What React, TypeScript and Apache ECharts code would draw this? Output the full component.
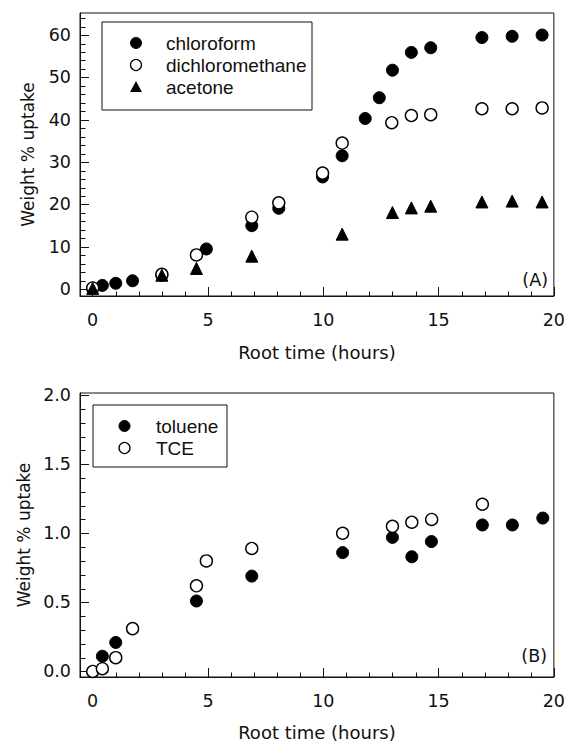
import React, { useEffect, useRef } from "react";
import * as echarts from "echarts";

// Panel A
const chloroX = [0, 0.42, 1.0, 1.73, 3.0, 4.93, 6.9, 8.07, 9.97, 10.82, 11.82, 12.43, 13.0, 13.82, 14.66, 16.88, 18.19, 19.49];
const chloroY = [0.2, 0.9, 1.4, 2.0, 3.3, 9.5, 15.0, 19.1, 26.5, 31.5, 40.3, 45.2, 51.7, 55.9, 57.0, 59.4, 59.7, 60.0];
const dcmX = [0, 3.0, 4.5, 6.9, 8.07, 9.97, 10.82, 12.97, 13.82, 14.66, 16.88, 18.19, 19.49];
const dcmY = [0.3, 3.5, 8.1, 17.0, 20.4, 27.4, 34.5, 39.3, 41.0, 41.2, 42.6, 42.6, 42.8];
const acetoneX = [0, 3.0, 4.5, 6.9, 10.82, 13.0, 13.82, 14.66, 16.88, 18.19, 19.49];
const acetoneY = [0.2, 3.3, 4.9, 7.8, 13.0, 18.1, 19.2, 19.6, 20.6, 20.8, 20.6];

// Panel B
const tolueneX = [0.42, 1.0, 4.5, 6.9, 10.84, 13.0, 13.84, 14.69, 16.9, 18.2, 19.52];
const tolueneY = [0.11, 0.21, 0.51, 0.69, 0.86, 0.97, 0.83, 0.94, 1.06, 1.06, 1.11];
const tceX = [0, 0.42, 1.0, 1.73, 4.5, 4.93, 6.9, 10.84, 13.0, 13.84, 14.7, 16.9];
const tceY = [0.0, 0.02, 0.1, 0.31, 0.62, 0.8, 0.89, 1.0, 1.05, 1.08, 1.1, 1.21];

// Ticks
const xMajor = [0, 5, 10, 15, 20];
const xMinor = [1, 2, 3, 4, 6, 7, 8, 9, 11, 12, 13, 14, 16, 17, 18, 19];
const yAMajor = [0, 10, 20, 30, 40, 50, 60];
const yAMinor = [2, 4, 6, 8, 12, 14, 16, 18, 22, 24, 26, 28, 32, 34, 36, 38, 42, 44, 46, 48, 52, 54, 56, 58, 62, 64];
const yBMajor = [0, 0.5, 1.0, 1.5, 2.0];
const yBMinor = [0.1, 0.2, 0.3, 0.4, 0.6, 0.7, 0.8, 0.9, 1.1, 1.2, 1.3, 1.4, 1.6, 1.7, 1.8, 1.9];

const legendA = ["chloroform", "dichloromethane", "acetone"];
const legendB = ["toluene", "TCE"];

const zip = (xs: number[], ys: number[]) => xs.map((x, i) => [x, ys[i]]);

const TICK_FONT = "DejaVu Sans";
const LEG_FONT = "Liberation Sans";
const INK = "#111";

const filled = { color: "#000", borderColor: "#000", borderWidth: 1, opacity: 1 };
const open = { color: "#fff", borderColor: "#000", borderWidth: 1.4, opacity: 1 };

const X_MIN = -0.55;
const X_MAX = 20;
const YA_MIN = -1.6;
const YA_MAX = 65.2;
const YB_MIN = -0.04;
const YB_MAX = 2.015;

export default function App() {
  const ref = useRef<HTMLDivElement>(null);
  useEffect(() => {
    if (!ref.current) return;
    const chart = echarts.init(ref.current, null, { renderer: "svg" });

    const gridA = { left: 80, top: 13, width: 475, height: 283 };
    const gridB = { left: 80, top: 393, width: 476, height: 284 };

    const fmt1 = (v: number) => v.toFixed(1);

    const mainX = (gridIndex: number, nameGap: number) => ({
      type: "value",
      gridIndex,
      min: X_MIN,
      max: X_MAX,
      position: "bottom",
      name: "Root time (hours)",
      nameLocation: "middle",
      nameGap,
      nameTextStyle: { fontFamily: TICK_FONT, fontSize: 18, color: INK },
      axisLine: { show: true, onZero: false, lineStyle: { color: INK, width: 1 } },
      axisTick: { show: true, inside: true, length: 9, customValues: xMajor, lineStyle: { color: INK, width: 1 } },
      axisLabel: { show: true, customValues: xMajor, margin: 15, fontFamily: TICK_FONT, fontSize: 17.5, color: INK },
      splitLine: { show: false },
    });
    const mainY = (gridIndex: number, min: number, max: number, major: number[], formatter?: any) => ({
      type: "value",
      gridIndex,
      min,
      max,
      position: "left",
      name: "Weight % uptake",
      nameLocation: "middle",
      nameRotate: 90,
      nameGap: 44,
      nameTextStyle: { fontFamily: TICK_FONT, fontSize: 17, color: INK },
      axisLine: { show: true, onZero: false, lineStyle: { color: INK, width: 1 } },
      axisTick: { show: true, inside: true, length: 9, customValues: major, lineStyle: { color: INK, width: 1 } },
      axisLabel: { show: true, customValues: major, margin: 9, fontFamily: TICK_FONT, fontSize: 17.5, color: INK, formatter },
      splitLine: { show: false },
    });

    const sc = (name: string, idx: number, data: number[][], symbol: string, size: number, style: any, z: number) => ({
      type: "scatter",
      name,
      xAxisIndex: idx,
      yAxisIndex: idx,
      data,
      symbol,
      symbolSize: size,
      itemStyle: style,
      z,
      emphasis: { disabled: true },
    });

    // Minor inward ticks, placed through the axes' own scales
    const minorTicks = (idx: number, dir: "x" | "y", values: number[], other: number) => ({
      type: "custom",
      xAxisIndex: idx,
      yAxisIndex: idx,
      silent: true,
      clip: false,
      z: 1,
      data: values.map((v) => (dir === "x" ? [v, other] : [other, v])),
      renderItem: (_p: any, api: any) => {
        const pt = api.coord([api.value(0), api.value(1)]);
        const len = 5;
        const x1 = Math.round(pt[0]) + 0.5;
        const y1 = Math.round(pt[1]) + 0.5;
        return {
          type: "line",
          shape: dir === "x" ? { x1, y1, x2: x1, y2: y1 - len } : { x1: x1 - 0.5, y1, x2: x1 + len, y2: y1 },
          style: { stroke: INK, lineWidth: 1 },
        };
      },
    });

    const legText = (x: number, y: number, t: string) => ({
      type: "text",
      x,
      y,
      z: 11,
      style: { text: t, fontFamily: LEG_FONT, fontSize: 19, fill: INK, textVerticalAlign: "middle", textAlign: "left" },
    });

    chart.setOption({
      animation: false,
      backgroundColor: "#fff",
      grid: [
        { ...gridA, show: true, borderColor: INK, borderWidth: 1, backgroundColor: "transparent" },
        { ...gridB, show: true, borderColor: INK, borderWidth: 1, backgroundColor: "transparent" },
      ],
      xAxis: [mainX(0, 47), mainX(1, 46)],
      yAxis: [mainY(0, YA_MIN, YA_MAX, yAMajor), mainY(1, YB_MIN, YB_MAX, yBMajor, fmt1)],
      series: [
        minorTicks(0, "x", xMinor, YA_MIN),
        minorTicks(0, "y", yAMinor, X_MIN),
        minorTicks(1, "x", xMinor, YB_MIN),
        minorTicks(1, "y", yBMinor, X_MIN),
        sc(legendA[0], 0, zip(chloroX, chloroY), "circle", 12, filled, 2),
        sc(legendA[1], 0, zip(dcmX, dcmY), "circle", 12, open, 3),
        sc(legendA[2], 0, zip(acetoneX, acetoneY), "triangle", 12, filled, 4),
        sc(legendB[0], 1, zip(tolueneX, tolueneY), "circle", 12, filled, 2),
        sc(legendB[1], 1, zip(tceX, tceY), "circle", 12, open, 3),
      ],
      graphic: [
        // Legend A
        { type: "rect", shape: { x: 102, y: 22, width: 210, height: 88 }, style: { fill: "#fff", stroke: INK, lineWidth: 1 }, z: 10 },
        { type: "circle", shape: { cx: 136, cy: 43, r: 5.5 }, style: { fill: "#000", stroke: "#000" }, z: 11 },
        { type: "circle", shape: { cx: 136, cy: 65, r: 5.5 }, style: { fill: "#fff", stroke: "#000", lineWidth: 1.3 }, z: 11 },
        { type: "polygon", shape: { points: [[136, 81], [142, 92], [130, 92]] }, style: { fill: "#000" }, z: 11 },
        legText(166, 43, legendA[0]),
        legText(166, 65, legendA[1]),
        legText(166, 87, legendA[2]),
        { type: "text", x: 548, y: 280, z: 11, style: { text: "(A)", fontFamily: TICK_FONT, fontSize: 17.5, fill: INK, textAlign: "right", textVerticalAlign: "middle" } },
        // Legend B
        { type: "rect", shape: { x: 93, y: 405, width: 134, height: 62 }, style: { fill: "#fff", stroke: INK, lineWidth: 1 }, z: 10 },
        { type: "circle", shape: { cx: 124.5, cy: 426, r: 5.5 }, style: { fill: "#000", stroke: "#000" }, z: 11 },
        { type: "circle", shape: { cx: 124.5, cy: 448, r: 5.5 }, style: { fill: "#fff", stroke: "#000", lineWidth: 1.3 }, z: 11 },
        legText(156, 426, legendB[0]),
        legText(156, 448, legendB[1]),
        { type: "text", x: 547, y: 656, z: 11, style: { text: "(B)", fontFamily: TICK_FONT, fontSize: 17.5, fill: INK, textAlign: "right", textVerticalAlign: "middle" } },
      ],
    });
    return () => chart.dispose();
  }, []);
  return <div ref={ref} style={{ position: "absolute", left: 0, top: 0, width: 568, height: 742 }} />;
}
